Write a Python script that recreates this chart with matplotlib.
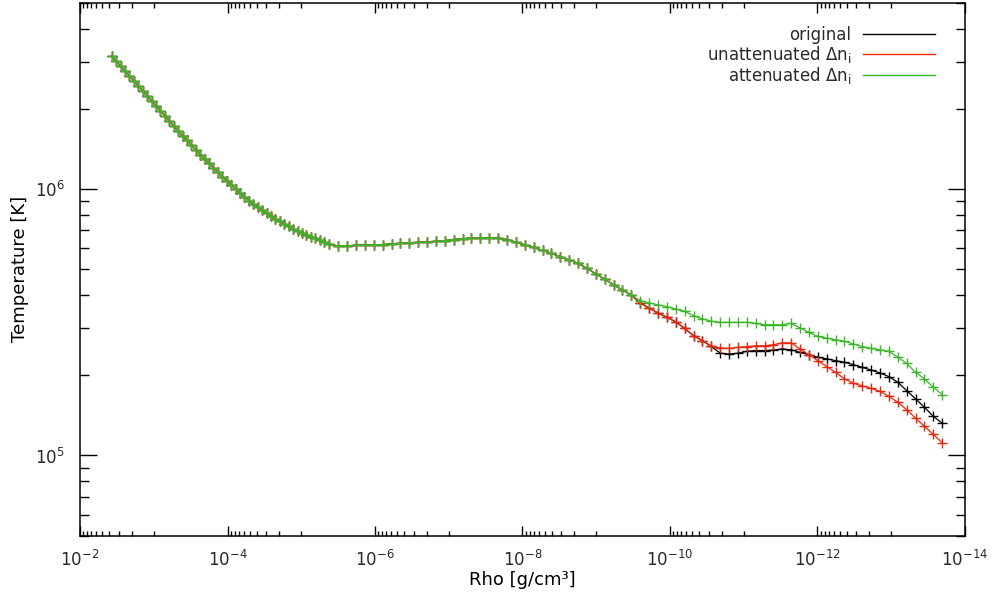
import numpy as np
import matplotlib.pyplot as plt
from matplotlib.ticker import FixedLocator, LogFormatterMathtext, LogLocator, NullFormatter
from matplotlib.lines import Line2D

# inner (fine) grid: log10 rho [g/cm^3] and log10 T [K], same for all three runs
logrho_in = [-2.43, -2.49, -2.55, -2.61, -2.67, -2.73, -2.79, -2.85, -2.91, -2.97,
             -3.03, -3.09, -3.15, -3.21, -3.27, -3.33, -3.39, -3.45, -3.51, -3.57,
             -3.63, -3.69, -3.75, -3.81, -3.87, -3.93, -3.99, -4.05, -4.11, -4.17,
             -4.23, -4.29, -4.35, -4.41, -4.47, -4.53, -4.59, -4.65, -4.71, -4.77,
             -4.83, -4.89, -4.95, -5.01, -5.07, -5.13, -5.19, -5.25, -5.31, -5.37]
logT_in = [6.500, 6.481, 6.463, 6.444, 6.425, 6.407, 6.388, 6.370, 6.351, 6.332,
           6.314, 6.295, 6.276, 6.257, 6.238, 6.219, 6.201, 6.184, 6.166, 6.148,
           6.130, 6.113, 6.097, 6.080, 6.063, 6.047, 6.031, 6.016, 6.001, 5.986,
           5.971, 5.957, 5.945, 5.933, 5.921, 5.909, 5.898, 5.888, 5.879, 5.869,
           5.860, 5.850, 5.843, 5.836, 5.829, 5.822, 5.815, 5.808, 5.801, 5.793]

# outer grid
logrho_out = [-5.502, -5.622, -5.743, -5.863, -5.984, -6.104, -6.225, -6.345, -6.465, -6.586,
              -6.706, -6.827, -6.947, -7.068, -7.188, -7.308, -7.429, -7.549, -7.670, -7.790,
              -7.911, -8.031, -8.151, -8.272, -8.392, -8.513, -8.633, -8.754, -8.874, -8.994,
              -9.115, -9.235, -9.356, -9.476, -9.597, -9.717, -9.837, -9.958, -10.078, -10.199,
              -10.319, -10.440, -10.560, -10.680, -10.801, -10.921, -11.042, -11.162, -11.283, -11.403,
              -11.523, -11.644, -11.764, -11.885, -12.005, -12.126, -12.246, -12.366, -12.487, -12.607,
              -12.728, -12.848, -12.969, -13.089, -13.209, -13.330, -13.450, -13.571, -13.691]
# outer grid temperatures, common part (first 34 points)
logT_common = [5.787, 5.787, 5.789, 5.790, 5.791, 5.792, 5.795, 5.796, 5.798, 5.800,
               5.801, 5.804, 5.807, 5.811, 5.814, 5.816, 5.817, 5.817, 5.816, 5.811,
               5.801, 5.791, 5.781, 5.770, 5.759, 5.746, 5.734, 5.721, 5.703, 5.682,
               5.662, 5.641, 5.621, 5.602]
# original and unattenuated still agree here
logT_shared = [5.572, 5.554, 5.535, 5.519, 5.502, 5.477, 5.450, 5.431, 5.410]
logT_orig_tail = [5.384, 5.381, 5.384, 5.391, 5.394, 5.394, 5.396, 5.400, 5.397, 5.387,
                  5.379, 5.369, 5.363, 5.356, 5.350, 5.341, 5.331, 5.321, 5.310, 5.296,
                  5.275, 5.244, 5.213, 5.181, 5.147, 5.121]
logT_unatt_tail = [5.404, 5.402, 5.406, 5.409, 5.412, 5.412, 5.416, 5.423, 5.423, 5.400,
                   5.378, 5.356, 5.334, 5.312, 5.288, 5.271, 5.262, 5.252, 5.241, 5.222,
                   5.200, 5.172, 5.140, 5.110, 5.079, 5.048]
logT_att_tail = [5.581, 5.573, 5.566, 5.559, 5.550, 5.541, 5.525, 5.513, 5.504, 5.500,
                 5.500, 5.500, 5.500, 5.496, 5.491, 5.491, 5.491, 5.496, 5.479, 5.462,
                 5.447, 5.441, 5.434, 5.429, 5.419, 5.409, 5.402, 5.397, 5.391, 5.369,
                 5.346, 5.312, 5.288, 5.256, 5.229]

labels = ['original', r'unattenuated $\Delta$n$_\mathrm{i}$', r'attenuated $\Delta$n$_\mathrm{i}$']
colors = ['#000000', '#e8280e', '#3cb52a']

rho = 10 ** np.array(logrho_in + logrho_out)
temps = [
    10 ** np.array(logT_in + logT_common + logT_shared + logT_orig_tail),
    10 ** np.array(logT_in + logT_common + logT_shared + logT_unatt_tail),
    10 ** np.array(logT_in + logT_common + logT_att_tail),
]

plt.rcParams['font.family'] = 'DejaVu Sans'
plt.rcParams['font.size'] = 12
plt.rcParams['text.color'] = '#2a2a2a'
plt.rcParams['mathtext.default'] = 'regular'

fig = plt.figure(figsize=(9.94, 6.01), dpi=100)
ax = fig.add_axes([0.0805, 0.1087, 0.8903, 0.8863])

for T, c in zip(temps, colors):
    ax.plot(rho, T, color=c, lw=0.9, marker='+', ms=7, mew=1.0)

ax.set_xscale('log')
ax.set_yscale('log')
ax.set_xlim(1e-2, 1e-14)
ax.set_ylim(5e4, 5e6)

# major x ticks every second decade, linear minor ticks in between
ax.xaxis.set_major_locator(FixedLocator([10.0 ** -k for k in range(2, 15, 2)]))
ax.xaxis.set_major_formatter(LogFormatterMathtext())
xminor = [k * 10.0 ** -d for d in range(3, 15, 2) for k in range(1, 10)]
ax.xaxis.set_minor_locator(FixedLocator(xminor))
ax.xaxis.set_minor_formatter(NullFormatter())
ax.yaxis.set_major_locator(FixedLocator([1e5, 1e6]))
ax.yaxis.set_major_formatter(LogFormatterMathtext())
ax.yaxis.set_minor_locator(LogLocator(base=10, subs=np.arange(2, 10)))
ax.yaxis.set_minor_formatter(NullFormatter())

ax.tick_params(which='both', direction='in', top=True, right=True, colors='black',
               labelcolor='#2a2a2a', labelsize=12)
ax.tick_params(axis='x', which='major', length=7, width=1, pad=10)
ax.tick_params(axis='x', which='minor', length=3.6, width=1)
ax.tick_params(axis='y', which='major', length=12, width=1, pad=11)
ax.tick_params(axis='y', which='minor', length=6.5, width=1)
for sp in ax.spines.values():
    sp.set_linewidth(1.1)

ax.set_xlabel('Rho [g/cm³]', fontsize=13, labelpad=1)
ax.set_ylabel('Temperature [K]', fontsize=13, labelpad=4)

handles = [Line2D([], [], color=c, lw=1.0) for c in colors]
ax.legend(handles, labels, loc='upper right', bbox_to_anchor=(0.966, 0.9564),
          frameon=False, markerfirst=False, borderaxespad=0, borderpad=0,
          handlelength=4.3, handletextpad=0.7, labelspacing=0.0, fontsize=12)

fig.savefig('out.png', dpi=100)
